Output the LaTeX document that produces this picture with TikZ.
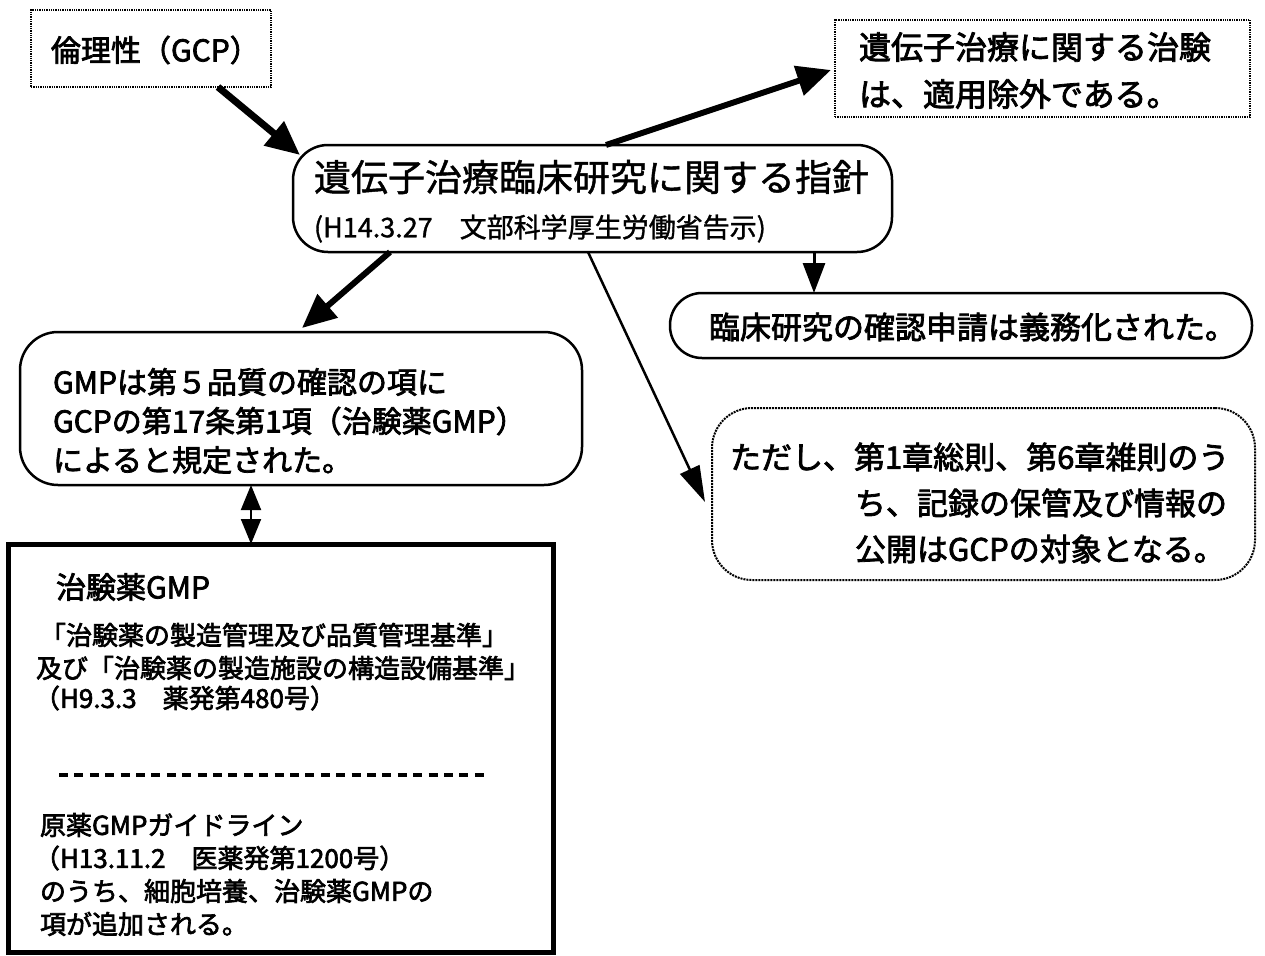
\documentclass[tikz,border=0pt]{standalone}
\usepackage{fontspec}
\setmainfont{Noto Sans CJK JP}
\newfontfamily\jpbold{Noto Sans CJK JP}[FakeBold=2.5]
\newfontfamily\jpmed{Noto Sans CJK JP}[FakeBold=1.2]
\usetikzlibrary{arrows.meta,calc}
\tikzset{
 dotbox/.style={draw, densely dotted, line width=1.3pt, inner sep=0pt, outer sep=0pt},
 roundbox/.style={draw, line width=2.5pt, inner sep=0pt, outer sep=0pt, rounded corners=#1},
 dotround/.style={draw, densely dotted, line width=2pt, inner sep=0pt, outer sep=0pt, rounded corners=40pt},
 heavybox/.style={draw, line width=5pt, inner sep=0pt, outer sep=0pt},
 txt/.style={anchor=west, inner sep=0pt, outer sep=0pt, font=\jpbold\fontsize{#1}{#1}\selectfont, text height=0.88*#1, text depth=0.12*#1},
 medtxt/.style={txt=#1, font=\jpmed\fontsize{#1}{#1}\selectfont},
 heavyarrow/.style={line width=#1, -{Triangle[length=34pt,width=30pt]}},
 midarrow/.style={line width=3pt, -{Triangle[length=30pt,width=22pt]}},
 thinarrow/.style={line width=2.5pt, -{Triangle[length=36pt,width=21pt]}},
 dblarrow/.style={line width=2pt, {Triangle[length=25pt,width=20pt]}-{Triangle[length=25pt,width=20pt]}},
 separator/.style={line width=4pt, dash pattern=on 9pt off 6.4pt}
}
\begin{document}
\begin{tikzpicture}[x=1pt,y=-1pt]
\path[use as bounding box, fill=white] (0,0) rectangle (1265,955);

% boxes
\node[dotbox, minimum width=240pt, minimum height=77pt] (rinri) at (151,48.5) {};
\node[dotbox, minimum width=415pt, minimum height=97pt] (chiken) at (1042.5,68.5) {};
\node[roundbox=35pt, minimum width=599pt, minimum height=107pt] (shishin) at (592.5,198.5) {};
\node[roundbox=32pt, minimum width=582pt, minimum height=65pt] (kakunin) at (961,325.5) {};
\node[roundbox=38pt, minimum width=562pt, minimum height=153pt] (gmp) at (301,408.5) {};
\node[dotround, minimum width=543pt, minimum height=172pt] (tadashi) at (983.5,494) {};
\node[heavybox, minimum width=545pt, minimum height=408pt] (gmpbox) at (280.5,748) {};

% texts
\node[txt=30] (t1) at (51,50) {倫理性（GCP）};
\node[txt=32] (t2) at (859,47) {遺伝子治療に関する治験};
\node[txt=32] (t3) at (859,94) {は、適用除外である。};
\node[medtxt=37] (t4) at (314,177) {遺伝子治療臨床研究に関する指針};
\node[medtxt=27] (t5) at (314,227) {(H14.3.27　文部科学厚生労働省告示)};
\node[txt=31] (t6) at (709,327) {臨床研究の確認申請は義務化された。};
\node[txt=30] (t7) at (53,382) {GMPは第５品質の確認の項に};
\node[txt=30] (t8) at (53,421) {GCPの第17条第1項（治験薬GMP）};
\node[txt=30] (t9) at (53,460) {によると規定された。};
\node[txt=31] (t10) at (730,457) {ただし、第1章総則、第6章雑則のう};
\node[txt=31] (t11) at (855,503) {ち、記録の保管及び情報の};
\node[txt=31] (t12) at (855,549) {公開はGCPの対象となる。};
\node[txt=30] (t13) at (56,587) {治験薬GMP};
\node[txt=26] (t14) at (40,635) {「治験薬の製造管理及び品質管理基準」};
\node[txt=26] (t15) at (36,668) {及び「治験薬の製造施設の構造設備基準」};
\node[txt=26] (t16) at (34,698) {（H9.3.3　薬発第480号）};
\node[txt=26] (t17) at (40,825) {原薬GMPガイドライン};
\node[txt=26] (t18) at (34,858) {（H13.11.2　医薬発第1200号）};
\node[txt=26] (t19) at (40,891) {のうち、細胞培養、治験薬GMPの};
\node[txt=26] (t20) at (40,924) {項が追加される。};

% separator inside the GMP box
\draw[separator] ($(gmpbox.north west)+(51,231)$) -- ($(gmpbox.north west)+(482,231)$);

% connectors
\draw[heavyarrow=7pt] ($(rinri.south west)+(187,0)$) -- ($(shishin.north west)+(7,10)$);
\draw[heavyarrow=6pt] ($(shishin.north)+(13.5,0)$) -- ($(chiken.west)+(-4,1.5)$);
\draw[heavyarrow=6pt] ($(shishin.south)+(-202.5,0)$) -- ($(gmp.north)+(1,-4)$);
\draw[midarrow] ($(shishin.south west)+(521,0)$) -- ($(kakunin.north west)+(144,0)$);
\draw[thinarrow] ($(shishin.south)+(-4.5,0)$) -- ($(tadashi.west)+(-7,8)$);
\draw[dblarrow] ($(gmp.south)+(-50,0)$) -- ($(gmpbox.north)+(-29.5,0)$);
\end{tikzpicture}
\end{document}
